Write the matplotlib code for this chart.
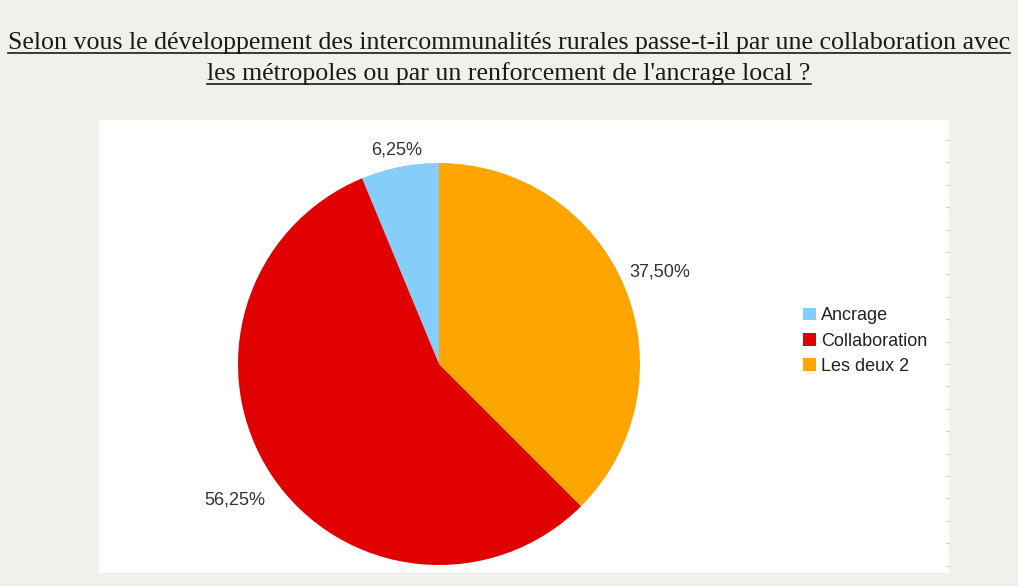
import numpy as np
import matplotlib.pyplot as plt
from matplotlib.patches import Patch
from matplotlib.lines import Line2D
from matplotlib.ticker import MultipleLocator

categories = ['Ancrage', 'Collaboration', 'Les deux 2']
shares = [6.25, 56.25, 37.50]
pct_labels = ['6,25%', '56,25%', '37,50%']
colors = ['#85cefa', '#e00000', '#fea500']
title_lines = ["Selon vous le développement des intercommunalités rurales passe-t-il par une collaboration avec",
               "les métropoles ou par un renforcement de l'ancrage local ?"]

W, H = 1018, 586
fig = plt.figure(figsize=(W / 100, H / 100), dpi=100)
fig.patch.set_facecolor('#f2f0ea')

# white panel behind the chart
panel = fig.add_axes([99 / W, 1 - 573 / H, 850 / W, 453 / H])
panel.set_facecolor('white')
for s in panel.spines.values():
    s.set_visible(False)
panel.set_xticks([])
panel.yaxis.tick_right()
panel.set_ylim(-0.33, 453 / 22.4 - 0.33)
panel.yaxis.set_major_locator(MultipleLocator(1))
panel.tick_params(axis='y', direction='in', length=3, color='#d0d0d0', width=0.8, labelright=False)

# pie
cx, cy, r = 439, 364, 201
ax = fig.add_axes([(cx - r) / W, (H - cy - r) / H, 2 * r / W, 2 * r / H])
wedges, _ = ax.pie(shares, colors=colors, startangle=90, counterclock=True, radius=1,
                   wedgeprops=dict(linewidth=0))
ax.set_xlim(-1, 1)
ax.set_ylim(-1, 1)
ax.axis('off')

dist = [1.085, 1.22, 1.19]
for w, lab, d in zip(wedges, pct_labels, dist):
    ang = np.deg2rad((w.theta1 + w.theta2) / 2)
    ax.text(d * np.cos(ang), d * np.sin(ang), lab, ha='center', va='center', fontsize=13,
            color='#333333', family='Liberation Sans')

handles = [Patch(facecolor=c, edgecolor='none') for c in colors]
leg = fig.legend(handles, categories, loc='center left', bbox_to_anchor=(803 / W, 1 - 341 / H),
                 frameon=False, handlelength=0.7, handleheight=0.7, handletextpad=0.3,
                 labelspacing=0.45, borderpad=0, borderaxespad=0,
                 prop={'family': 'Liberation Sans', 'size': 13})
for t in leg.get_texts():
    t.set_color('#222222')

# underlined title
baselines = [49, 80]
texts = []
for line, yb in zip(title_lines, baselines):
    texts.append(fig.text(0.5, 1 - yb / H, line, ha='center', va='baseline',
                          family='Liberation Serif', fontsize=18.6, color='#1a1a1a'))
fig.canvas.draw()
rend = fig.canvas.get_renderer()
for t, yb in zip(texts, baselines):
    bb = t.get_window_extent(rend)
    yu = 1 - (yb + 4) / H
    fig.add_artist(Line2D([bb.x0 / W, bb.x1 / W], [yu, yu], transform=fig.transFigure,
                          color='#1a1a1a', lw=1.2))

fig.savefig('out.png', dpi=100, facecolor=fig.get_facecolor())
